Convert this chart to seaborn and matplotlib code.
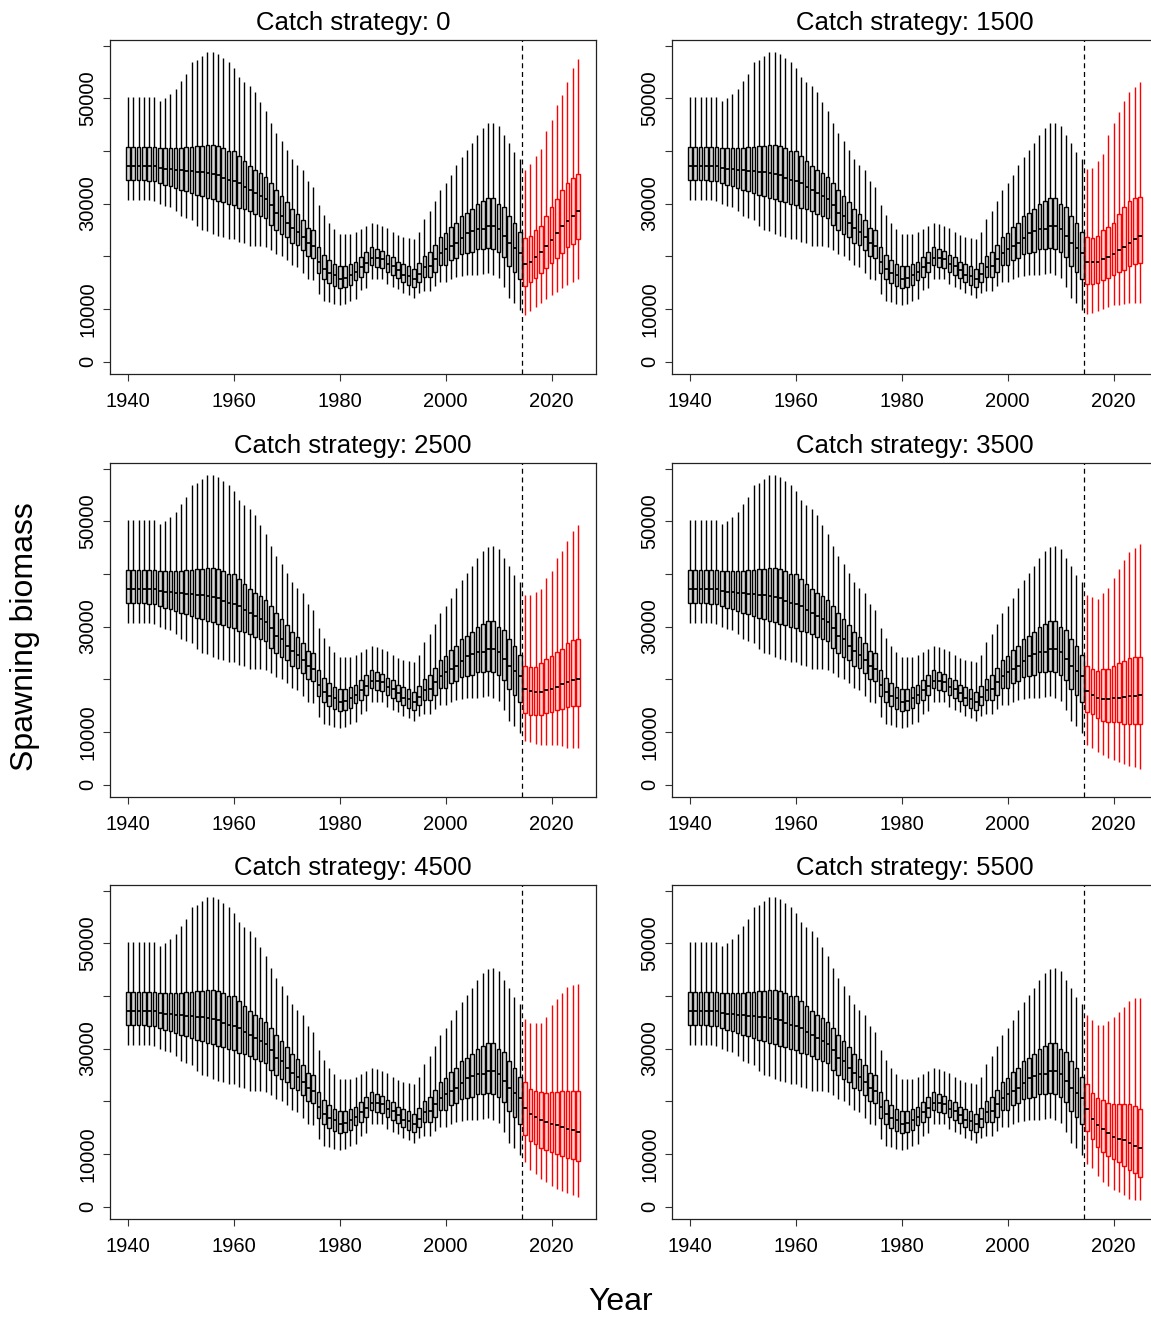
import numpy as np
import pandas as pd
import seaborn as sns
import matplotlib.pyplot as plt

# historical spawning biomass (same in every panel), 1940-2014
hist_years = list(range(1940, 2015))
hist_hi = [50200, 50200, 50200, 50200, 50200, 50200, 49500, 50000, 50800, 51800,
           53200, 54600, 56800, 57300, 58100, 58800, 58800, 58300, 57700, 56900,
           55800, 54100, 53100, 52400, 51200, 49300, 47600, 45300, 43400, 41800,
           40200, 38500, 37400, 36300, 34200, 33100, 29800, 27800, 26400, 25200,
           24200, 24200, 24200, 24600, 25200, 25700, 26300, 26100, 25800, 25400,
           24600, 24100, 23700, 23500, 23200, 24600, 27100, 28500, 30400, 32500,
           33900, 35400, 37400, 38800, 40200, 41500, 43100, 44300, 45200, 45300,
           44800, 43000, 41500, 39800, 38500]
hist_q3 = [40700, 40700, 40700, 40700, 40700, 40700, 40500, 40500, 40500, 40500,
           40600, 40700, 40700, 40900, 41000, 41200, 41200, 40900, 40500, 40000,
           39900, 39000, 38000, 37200, 36300, 35800, 35000, 33900, 32500, 31500,
           30300, 29000, 28000, 26900, 25400, 24900, 21800, 20300, 19200, 18600,
           18100, 18100, 18600, 19000, 19900, 20800, 21800, 21300, 21000, 20300,
           19800, 19000, 18600, 18200, 17600, 18800, 20000, 20800, 22200, 23700,
           24400, 25600, 26300, 27600, 28300, 29000, 30000, 30500, 31000, 31000,
           30000, 29400, 27600, 26300, 24600]
hist_med = [37200, 37200, 37200, 37200, 37100, 37100, 36800, 36600, 36600, 36400,
            36300, 36100, 36100, 36000, 35900, 35800, 35600, 35400, 34900, 34500,
            34300, 33900, 33100, 32600, 32100, 31400, 30900, 29700, 28300, 27600,
            26300, 25400, 24600, 23600, 22500, 21900, 19000, 17600, 16900, 16400,
            15600, 15900, 16500, 17000, 17900, 18700, 19700, 19700, 19500, 18600,
            18100, 17300, 16500, 16200, 15600, 16600, 18000, 18100, 19400, 20600,
            21300, 22000, 22500, 23500, 24400, 24700, 25200, 25200, 25800, 25800,
            25100, 23900, 22500, 21600, 20700]
hist_q1 = [34500, 34500, 34500, 34500, 34300, 34200, 34000, 33600, 33300, 33000,
           32600, 32300, 32000, 31600, 31400, 31100, 30900, 30500, 30300, 29900,
           29800, 29200, 29000, 28500, 28000, 27700, 27300, 26000, 25000, 24300,
           23600, 22600, 22200, 21200, 20000, 19700, 16800, 15600, 14900, 14400,
           13900, 14100, 14600, 15400, 16100, 17000, 18300, 18000, 17800, 17000,
           16500, 15900, 15200, 14600, 14100, 15100, 16100, 16100, 17000, 18300,
           18400, 19200, 19700, 20400, 20600, 20900, 21400, 21400, 21500, 21300,
           20900, 19900, 18100, 17000, 15700]
hist_lo = [30600, 30600, 30600, 30600, 30600, 30400, 29900, 29600, 29300, 28500,
           27600, 27300, 26800, 25700, 25000, 24700, 24200, 23800, 23600, 23300,
           23200, 22800, 22500, 22000, 21900, 21900, 21800, 21100, 20400, 20000,
           19200, 18400, 18000, 16900, 15700, 15400, 12800, 11600, 11300, 10900,
           10700, 10900, 11600, 11800, 13500, 14000, 15600, 15700, 15600, 14700,
           14200, 13700, 13000, 12700, 12000, 13000, 13400, 13400, 14300, 15200,
           15200, 15600, 16100, 16300, 16500, 16500, 16500, 16600, 16900, 16500,
           15900, 14100, 12100, 11100, 9800]

# projections 2015-2025 for each catch strategy
proj_years = list(range(2015, 2026))
strategies = [0, 1500, 2500, 3500, 4500, 5500]

c0_hi = [36300, 37500, 39000, 40400, 43700, 45800, 48800, 50700, 53100, 55700, 57400]
c0_q3 = [23500, 23900, 24900, 25800, 27600, 29300, 30900, 32600, 33900, 34900, 35600]
c0_med = [18600, 19000, 19800, 20800, 22000, 23000, 24400, 25700, 26600, 27600, 28500]
c0_q1 = [14400, 15100, 15900, 16800, 17800, 18700, 19700, 20700, 21800, 22400, 23200]
c0_lo = [8800, 9600, 10400, 11100, 11900, 12700, 13200, 14000, 14600, 15100, 15700]

c1500_hi = [36500, 36700, 38100, 39400, 43100, 45200, 47300, 49500, 51200, 52200, 53000]
c1500_q3 = [23700, 23500, 23900, 24900, 25600, 26300, 28000, 29300, 30400, 31000, 31300]
c1500_med = [18900, 18900, 18900, 19500, 19900, 20400, 21100, 21800, 22600, 23200, 23900]
c1500_q1 = [14700, 14700, 15000, 15400, 15900, 16400, 17100, 17400, 18100, 18500, 18800]
c1500_lo = [9000, 9300, 9700, 10000, 10300, 10700, 10700, 11000, 11100, 11100, 11100]

c2500_hi = [36000, 36000, 36500, 37200, 39300, 40500, 43000, 44400, 46200, 48100, 49300]
c2500_q3 = [22600, 22400, 22400, 23100, 23800, 24400, 25100, 25800, 26800, 27400, 27700]
c2500_med = [18200, 17700, 17500, 17500, 18000, 18200, 18600, 19100, 19400, 19800, 20100]
c2500_q1 = [13600, 13300, 13300, 13300, 13600, 13800, 14100, 14300, 14700, 14900, 15000]
c2500_lo = [8200, 8000, 7800, 7600, 7600, 7500, 7500, 7300, 7000, 7000, 7000]

c3500_hi = [35900, 35600, 35300, 36300, 37400, 39200, 41000, 42700, 44200, 44900, 45600]
c3500_q3 = [22600, 22000, 21600, 22000, 22000, 22600, 23000, 23400, 24000, 24200, 24300]
c3500_med = [17800, 17100, 16500, 16200, 16300, 16400, 16500, 16600, 16800, 16900, 17000]
c3500_q1 = [13700, 13500, 12700, 12000, 11800, 11800, 11800, 11600, 11600, 11600, 11600]
c3500_lo = [7600, 7000, 6200, 5600, 5000, 4600, 4300, 3900, 3600, 3300, 3000]

c4500_hi = [35700, 34800, 34900, 34900, 36000, 38300, 39500, 40500, 41700, 42000, 42300]
c4500_q3 = [23700, 22300, 21900, 21700, 21600, 21700, 21800, 21900, 22000, 22000, 22000]
c4500_med = [18700, 17600, 17000, 16500, 16100, 15700, 15400, 15100, 14800, 14500, 14200]
c4500_q1 = [13600, 12500, 11800, 11200, 10700, 10300, 10000, 9600, 9300, 9000, 8700]
c4500_lo = [8500, 7000, 6200, 5300, 4600, 4000, 3400, 2900, 2500, 2200, 1900]

c5500_hi = [36400, 35400, 34500, 34500, 35200, 36000, 36900, 37900, 39100, 39600, 39600]
c5500_q3 = [23200, 21600, 20600, 20200, 19700, 19500, 19400, 19400, 19400, 19100, 18600]
c5500_med = [18600, 16700, 15400, 14700, 13900, 13200, 12900, 12600, 12100, 11600, 11100]
c5500_q1 = [14300, 12900, 11300, 10400, 9700, 9100, 8400, 7700, 6900, 6300, 5600]
c5500_lo = [8000, 7300, 5900, 4700, 3900, 3100, 2700, 2200, 1400, 1300, 1200]

projections = {
    0: (c0_lo, c0_q1, c0_med, c0_q3, c0_hi),
    1500: (c1500_lo, c1500_q1, c1500_med, c1500_q3, c1500_hi),
    2500: (c2500_lo, c2500_q1, c2500_med, c2500_q3, c2500_hi),
    3500: (c3500_lo, c3500_q1, c3500_med, c3500_q3, c3500_hi),
    4500: (c4500_lo, c4500_q1, c4500_med, c4500_q3, c4500_hi),
    5500: (c5500_lo, c5500_q1, c5500_med, c5500_q3, c5500_hi),
}


def long_table(years, lo, q1, med, q3, hi):
    # five values per year -> percentiles give exactly lo/q1/med/q3/hi
    vals = np.column_stack([lo, q1, med, q3, hi])
    return pd.DataFrame({'year': np.repeat(years, 5), 'biomass': vals.ravel()})


def boxes(ax, df, edge, face):
    sns.boxplot(data=df, x='year', y='biomass', native_scale=True, whis=np.inf,
                width=0.7, color=face, saturation=1, linecolor=edge, linewidth=1.0,
                showcaps=False, medianprops=dict(color='black', linewidth=1.3), ax=ax)


sns.set_style('ticks')
plt.rcParams['font.family'] = ['Liberation Sans', 'DejaVu Sans']
plt.rcParams['text.color'] = 'black'
plt.rcParams['xtick.color'] = 'black'
plt.rcParams['ytick.color'] = 'black'

W, H = 1151, 1317
fig = plt.figure(figsize=(W / 100, H / 100), dpi=100)

hist_df = long_table(hist_years, hist_lo, hist_q1, hist_med, hist_q3, hist_hi)

lefts = [110, 672]
tops = [40, 463, 885]
for k, catch in enumerate(strategies):
    col, row = k % 2, k // 2
    ax = fig.add_axes([lefts[col] / W, 1 - (tops[row] + 334) / H, 486 / W, 334 / H])
    boxes(ax, hist_df, 'black', '#d4d4d4')
    boxes(ax, long_table(proj_years, *projections[catch]), 'red', '#ffd0d0')
    ax.axvline(2014.5, color='black', linestyle=(0, (4, 3)), linewidth=0.9)

    ax.set_xlim(1936.6, 2028.4)
    ax.set_ylim(-2350, 61050)
    ax.set_xticks([1940, 1960, 1980, 2000, 2020])
    ax.set_xticklabels(['1940', '1960', '1980', '2000', '2020'])
    ax.set_yticks(range(0, 60001, 10000))
    ax.set_yticklabels(['0', '10000', '', '30000', '', '50000', ''],
                       rotation=90, va='center')
    ax.tick_params(labelsize=14.5, length=5, width=0.8, color='#333333',
                   labelcolor='black')
    ax.tick_params(axis='x', pad=8)
    ax.tick_params(axis='y', pad=4)
    ax.set_xlabel('')
    ax.set_ylabel('')
    for s in ax.spines.values():
        s.set_visible(True)
        s.set_linewidth(0.9)
        s.set_color('#222222')
    ax.set_title(f'Catch strategy: {catch}', fontsize=18.5, pad=7, color='black')

fig.text(25 / W, 1 - 637 / H, 'Spawning biomass', rotation=90, fontsize=23,
         ha='center', va='center', color='black')
fig.text(621 / W, 1 - 1302 / H, 'Year', fontsize=23, ha='center', va='center',
         color='black')

fig.savefig('out.png', dpi=100)
